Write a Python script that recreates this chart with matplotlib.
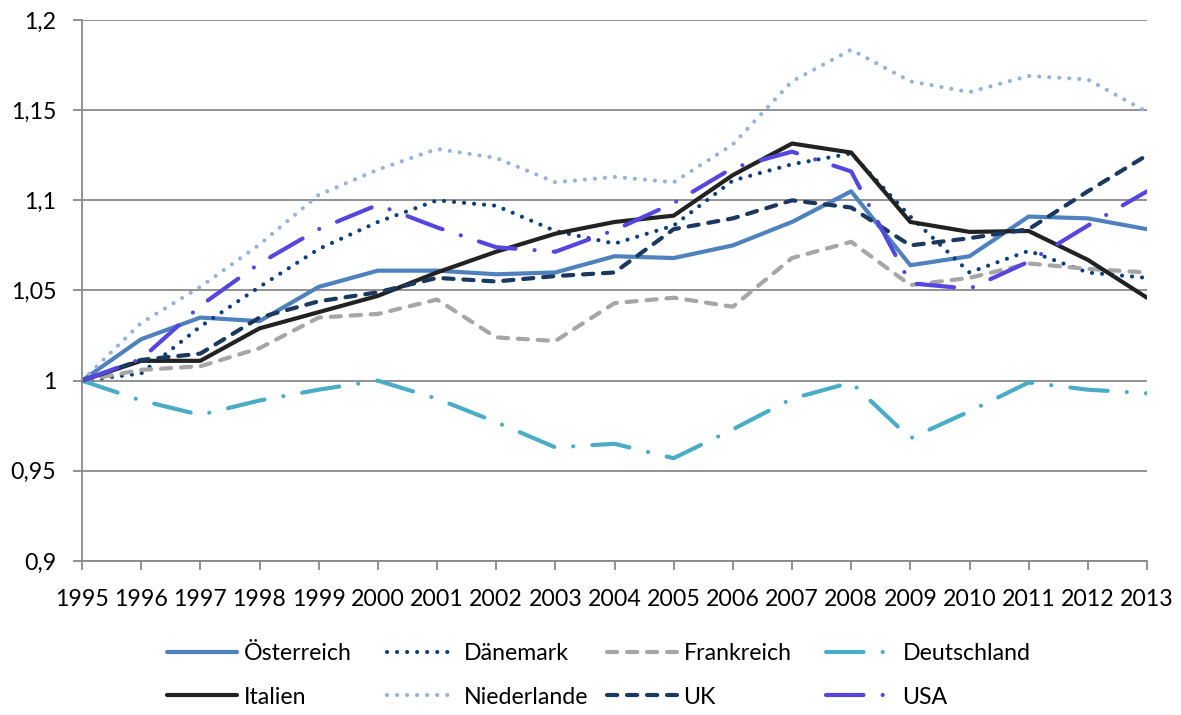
import matplotlib
matplotlib.use('Agg')
import matplotlib.pyplot as plt

plt.rcParams['font.family'] = ['Lato', 'DejaVu Sans']

# ---- Daten ----
years = list(range(1995, 2014))
oesterreich = [1.000, 1.023, 1.035, 1.033, 1.052, 1.061, 1.061, 1.059, 1.060, 1.069,
               1.068, 1.075, 1.088, 1.105, 1.064, 1.069, 1.091, 1.090, 1.084]
daenemark = [1.000, 1.004, 1.030, 1.052, 1.073, 1.088, 1.100, 1.097, 1.083, 1.076,
             1.086, 1.111, 1.120, 1.126, 1.091, 1.060, 1.072, 1.060, 1.057]
frankreich = [1.000, 1.006, 1.008, 1.018, 1.035, 1.037, 1.045, 1.024, 1.022, 1.043,
              1.046, 1.041, 1.068, 1.077, 1.053, 1.057, 1.065, 1.062, 1.060]
deutschland = [1.000, 0.989, 0.981, 0.989, 0.995, 1.000, 0.990, 0.977, 0.963, 0.965,
               0.957, 0.973, 0.990, 0.999, 0.968, 0.983, 0.999, 0.995, 0.993]
italien = [1.000, 1.011, 1.011, 1.029, 1.038, 1.047, 1.060, 1.0715, 1.0815, 1.088,
           1.0915, 1.114, 1.1315, 1.1265, 1.088, 1.0825, 1.083, 1.067, 1.046]
niederlande = [1.000, 1.032, 1.052, 1.0755, 1.103, 1.117, 1.1285, 1.1235, 1.110, 1.113,
               1.110, 1.131, 1.166, 1.1835, 1.166, 1.160, 1.169, 1.167, 1.149]
uk = [1.000, 1.0115, 1.015, 1.035, 1.044, 1.049, 1.057, 1.055, 1.058, 1.060,
      1.084, 1.090, 1.100, 1.096, 1.075, 1.079, 1.084, 1.105, 1.125]
usa = [1.000, 1.012, 1.0415, 1.065, 1.084, 1.0975, 1.085, 1.074, 1.0715, 1.0835,
       1.0985, 1.118, 1.127, 1.116, 1.054, 1.051, 1.066, 1.086, 1.105]

y_ticks = [0.9, 0.95, 1.0, 1.05, 1.1, 1.15, 1.2]
y_labels = ['0,9', '0,95', '1', '1,05', '1,1', '1,15', '1,2']

# Excel-Strichmuster (Einheiten = Linienbreite)
dots = (0, (0.01, 2.4))
dash = (0, (2.45, 2.35))
lgdashdot = (0, (9.0, 4.6, 0.01, 4.6))

series = [
    ('Österreich', oesterreich, '#4F81BD', '-'),
    ('Dänemark', daenemark, '#0D3F7A', dots),
    ('Frankreich', frankreich, '#A6A6A6', dash),
    ('Deutschland', deutschland, '#4BACC6', lgdashdot),
    ('Italien', italien, '#222222', '-'),
    ('Niederlande', niederlande, '#95B3D7', dots),
    ('UK', uk, '#1B385E', dash),
    ('USA', usa, '#5546DE', lgdashdot),
]

W, H = 1181, 715
fig = plt.figure(figsize=(W / 100, H / 100), dpi=100)
ax = fig.add_axes([82 / W, 1 - 561 / H, (1147 - 82) / W, (561 - 20) / H])

lines = []
for name, vals, col, ls in series:
    ln, = ax.plot(years, vals, color=col, lw=3.0, linestyle=ls,
                  dash_capstyle='round', solid_capstyle='round',
                  solid_joinstyle='round', label=name)
    lines.append(ln)

grid_col = '#898989'
ax.set_xlim(1995, 2013)
ax.set_ylim(0.9, 1.2)
ax.set_yticks(y_ticks)
ax.set_yticklabels(y_labels)
ax.set_xticks(years)
ax.set_xticklabels([str(y) for y in years])
ax.grid(axis='y', color=grid_col, lw=1.3)
ax.set_axisbelow(True)
for s in ['top', 'right']:
    ax.spines[s].set_visible(False)
for s in ['left', 'bottom']:
    ax.spines[s].set_color(grid_col)
    ax.spines[s].set_linewidth(1.3)
ax.tick_params(axis='both', colors=grid_col, labelcolor='black', width=1.3,
               length=6.5, labelsize=16.7)
ax.tick_params(axis='y', pad=12)
ax.tick_params(axis='x', pad=14)

# Legende: 4 Spalten x 2 Zeilen, gleichmäßig verteilt wie in Excel
col_x = [167, 387, 607, 826]
row_y = [654, 697]
for i, ln in enumerate(lines):
    cx = col_x[i % 4] / W
    cy = 1 - row_y[i // 4] / H
    fig.legend([ln], [ln.get_label()], loc='center left', bbox_to_anchor=(cx, cy),
               frameon=False, borderpad=0, borderaxespad=0, handlelength=3.0,
               handletextpad=0.3, fontsize=16.7)

fig.savefig('out.png', dpi=100)
